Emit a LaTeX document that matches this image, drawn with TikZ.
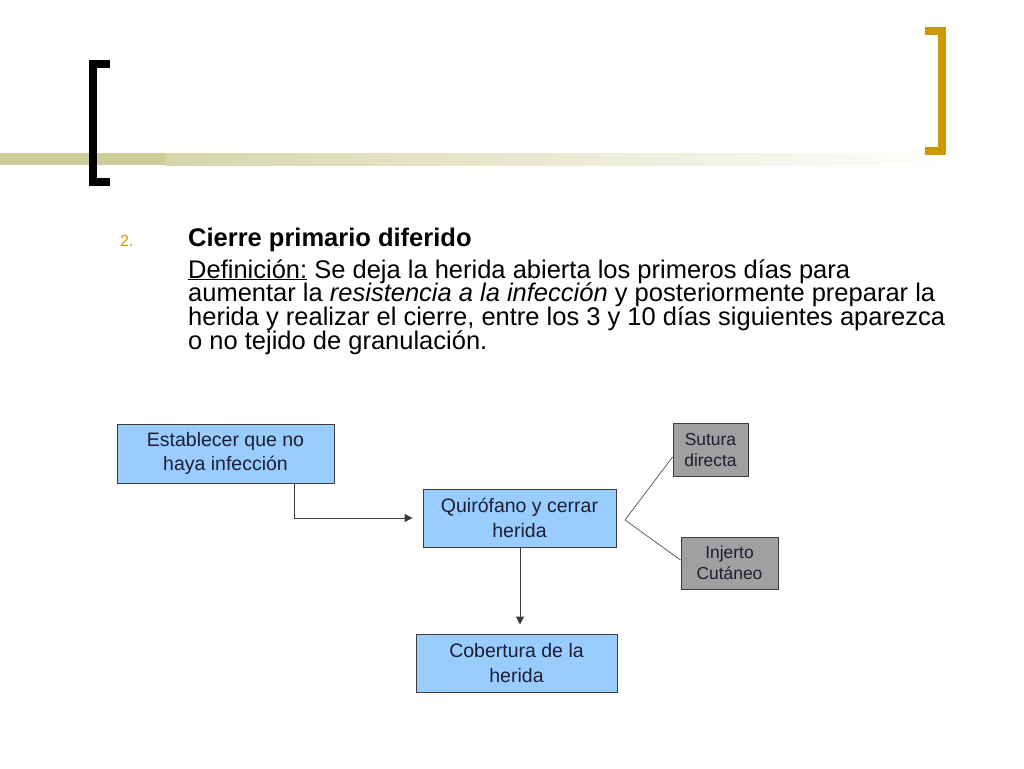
\documentclass[tikz,border=0pt]{standalone}
\usepackage{fontspec}
\setmainfont{Liberation Sans}
\usetikzlibrary{arrows.meta}
\definecolor{boxblue}{RGB}{153,204,255}
\definecolor{boxgray}{RGB}{160,160,160}
\definecolor{gold}{RGB}{204,153,0}
\definecolor{olive}{RGB}{204,204,153}
\definecolor{olivelight}{RGB}{214,214,172}
\definecolor{txt}{RGB}{30,30,50}
\definecolor{edge}{RGB}{60,60,60}
\tikzset{
  bluebox/.style={draw=edge, line width=0.9pt, fill=boxblue, text=txt, align=center, inner sep=0pt,
    font=\fontsize{19.5}{24.5}\selectfont},
  graybox/.style={draw=edge, line width=0.9pt, fill=boxgray, text=txt, align=center, inner sep=0pt,
    font=\fontsize{17.4}{21}\selectfont},
  conn/.style={draw=edge, line width=1pt},
  arr/.style={conn, -{Triangle[width=8pt,length=8pt]}, shorten >=0pt},
  thin/.style={draw=edge, line width=0.6pt},
  bodyline/.style={anchor=base west, inner sep=0pt, font=\fontsize{25.5}{24}\selectfont}
}
\begin{document}
\begin{tikzpicture}[x=1pt,y=-1pt]
\useasboundingbox (0,0) rectangle (1024,768);
% gradient bar
\fill[olive] (0,153) rectangle (165,165);
\shade[left color=olivelight, right color=white] (165,153) rectangle (960,165);
% black bracket
\fill[black] (89,60) rectangle (97,186);
\fill[black] (89,60) rectangle (110,68);
\fill[black] (89,178) rectangle (110,186);
% gold bracket
\fill[gold] (938,27) rectangle (946,155);
\fill[gold] (925,27) rectangle (946,35);
\fill[gold] (925,147) rectangle (946,155);
% text
\node[anchor=base west, text=gold, font=\fontsize{16}{18}\selectfont, inner sep=0pt] (num) at (120,246) {2.};
\node[bodyline, font=\bfseries\fontsize{25.5}{24}\selectfont] (head) at (188,246) {Cierre primario diferido};
\node[bodyline] (l1) at (188,278) {\underline{Definición:} Se deja la herida abierta los primeros días para};
\node[bodyline] (l2) at (188,301.8) {aumentar la \textit{resistencia a la infección} y posteriormente preparar la};
\node[bodyline] (l3) at (188,325.6) {herida y realizar el cierre, entre los 3 y 10 días siguientes aparezca};
\node[bodyline] (l4) at (188,349.4) {o no tejido de granulación.};
% boxes
\node[bluebox, minimum width=217pt, minimum height=59pt] (a) at (225.5,453.5) {Establecer que no\\haya infección};
\node[bluebox, minimum width=193pt, minimum height=58pt] (b) at (519.5,518) {Quirófano y cerrar\\herida};
\node[bluebox, minimum width=201pt, minimum height=58pt] (c) at (516.5,663) {Cobertura de la\\herida};
\node[graybox, minimum width=75pt, minimum height=53pt] (d) at (710.5,450) {Sutura\\directa};
\node[graybox, minimum width=97pt, minimum height=52pt] (e) at (729.5,563) {Injerto\\Cutáneo};
% connectors
\coordinate (fork) at (625,520);
\draw[arr] (a.south -| 294,0) |- ([xshift=-10pt]b.west);
\draw[arr] (b.south -| 520,0) -- ([yshift=9pt]c.north -| 520,0);
\draw[thin] (d.west |- 0,457) -- (fork) -- (e.west |- 0,560);
\end{tikzpicture}
\end{document}
